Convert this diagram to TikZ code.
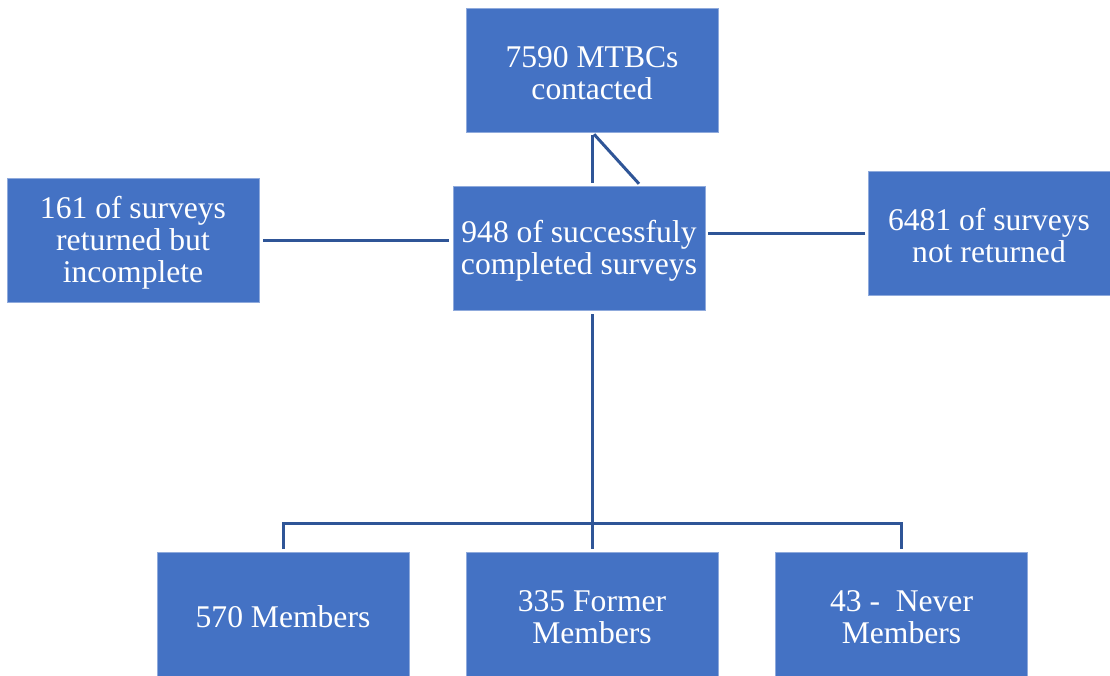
\documentclass[tikz,border=0pt]{standalone}
\usepackage{fontspec}
\setmainfont{Liberation Serif}
\definecolor{boxfill}{HTML}{4472C4}
\definecolor{boxedge}{HTML}{8FAADC}
\definecolor{linkcol}{HTML}{2F5597}
\begin{document}
\begin{tikzpicture}[x=1pt,y=-1pt,
  box/.style={draw=boxedge, line width=0.8pt, fill=boxfill,
    minimum width=252pt, minimum height=124pt, inner sep=0pt, outer sep=0pt},
  boxtext/.style={text=white, align=center, inner sep=0pt, yshift=-3pt,
    font=\fontsize{31.6}{32}\selectfont},
  link/.style={draw=linkcol, line width=3pt}]
\useasboundingbox (0,0) rectangle (1110,675);
\node[box, label={[boxtext]center:7590 MTBCs\\contacted}] (top) at (592,70) {};
\node[box, label={[boxtext]center:948 of successfuly\\completed surveys}] (center) at (579,248) {};
\node[box, label={[boxtext]center:161 of surveys\\returned but\\incomplete}] (left) at (133,240) {};
\node[box, minimum width=242pt, label={[boxtext]center:6481 of surveys\\not returned}] (right) at (989,233) {};
\node[box, label={[boxtext]center:570 Members}] (members) at (283,614) {};
\node[box, label={[boxtext]center:335 Former\\Members}] (former) at (592,614) {};
\node[box, label={[boxtext]center:43 -\ \ Never\\Members}] (never) at (901.5,614) {};
\coordinate (bus) at (592,523);
% top connectors
\draw[link, shorten <=3pt, shorten >=3pt] (top.south) -- (top.south |- center.north);
\draw[link, shorten <=3pt, shorten >=3pt] (top.south) -- ([xshift=62pt]center.north);
% side connectors
\draw[link, shorten <=4pt, shorten >=4pt] (left.east) -- (left.east -| center.west);
\draw[link, shorten <=3pt, shorten >=3pt] (right.west) -- (right.west -| center.east);
% bottom tree
\draw[link, shorten <=4pt] (center.south -| bus) -- (bus);
\draw[link] ([yshift=3pt]members.north) |- (bus) -| ([yshift=3pt]never.north);
\draw[link] (bus) -- ([yshift=3pt]former.north);
\end{tikzpicture}
\end{document}
